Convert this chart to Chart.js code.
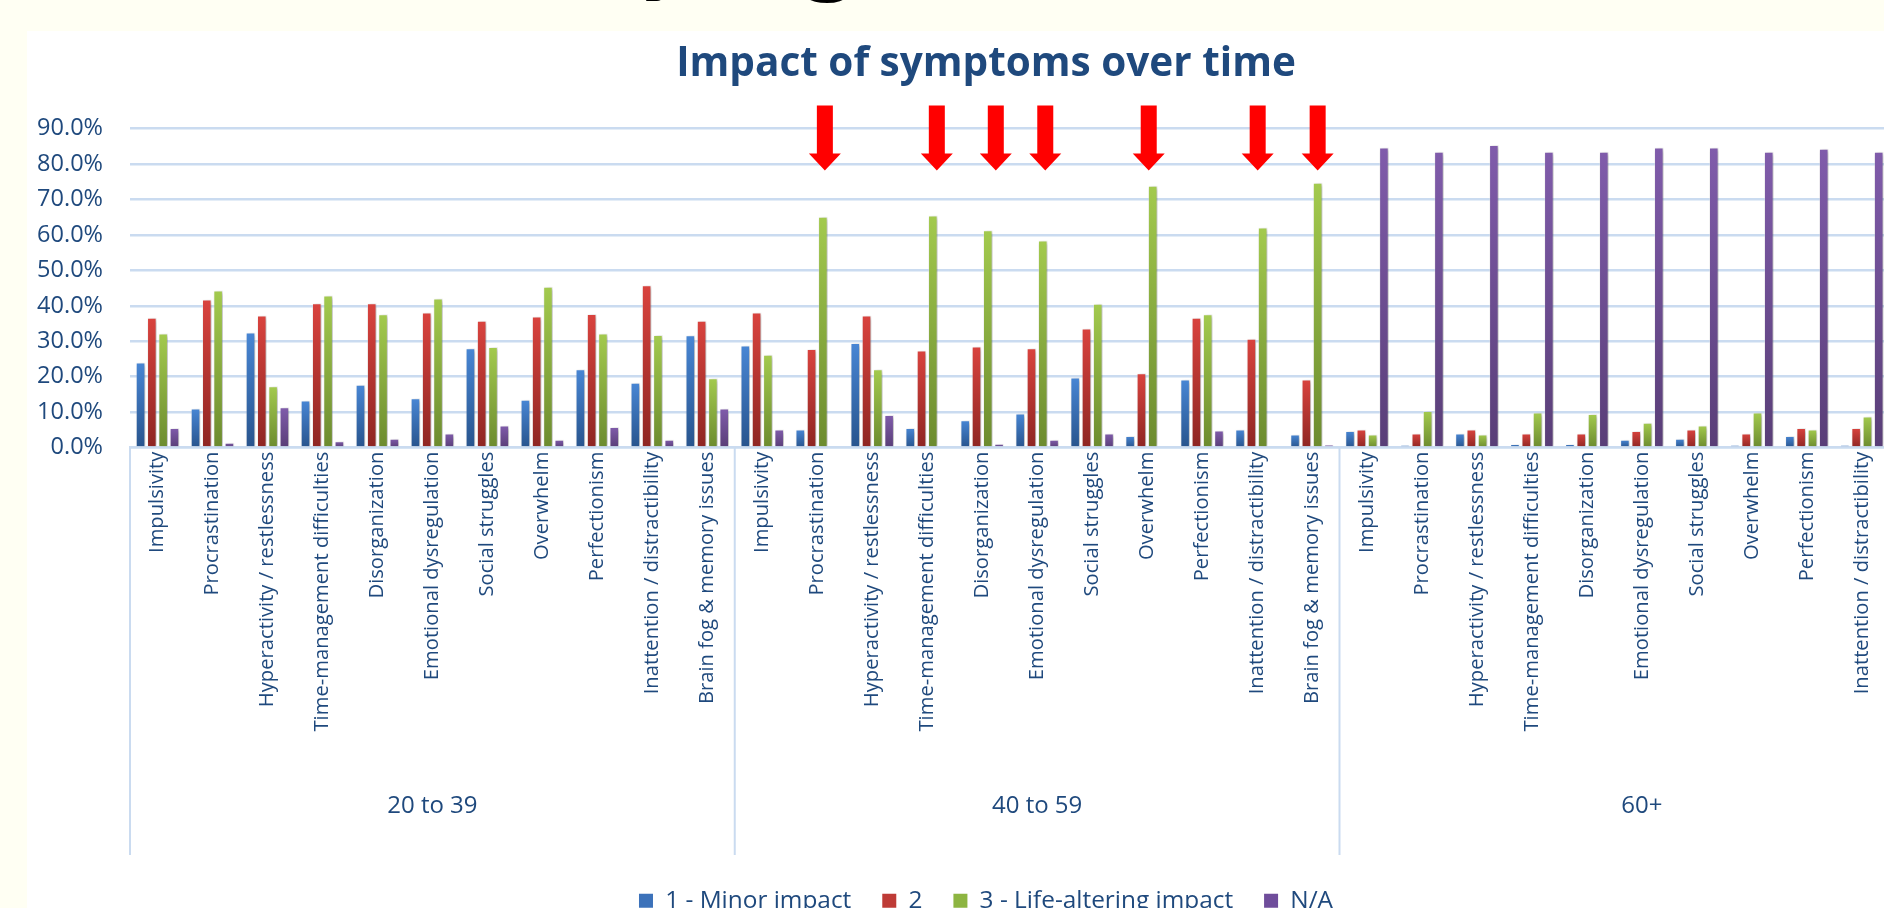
<!DOCTYPE html>
<html>
<head>
<meta charset="utf-8">
<title>Impact of symptoms over time</title>
<script src="https://cdn.jsdelivr.net/npm/chart.js@4.4.1/dist/chart.umd.min.js"></script>
<style>
  html, body { margin: 0; padding: 0; width: 1884px; height: 908px; overflow: hidden; background: #FFFFF3; }
  #heading { position: absolute; left: 566px; top: -125px; font: bold 120px Lato, sans-serif; line-height: 120px; word-spacing: 14px; color: #000; white-space: nowrap; }
  #panel { position: absolute; left: 27px; top: 31px; width: 1918px; height: 892px; background: #fff; }
  canvas { display: block; }
</style>
</head>
<body>
<div id="heading">by age</div>
<div id="panel"><canvas id="chart" width="1918" height="892"></canvas></div>
<script>
// Age bands and the symptoms asked about within each band
const ageGroups = ['20 to 39', '40 to 59', '60+'];
const symptoms = [
  'Impulsivity', 'Procrastination', 'Hyperactivity / restlessness',
  'Time-management difficulties', 'Disorganization', 'Emotional dysregulation',
  'Social struggles', 'Overwhelm', 'Perfectionism',
  'Inattention / distractibility', 'Brain fog & memory issues'
];
const seriesNames = ['1 - Minor impact', '2', '3 - Life-altering impact', 'N/A'];

// Share of respondents (%), one value per symptom, age bands in order
const minorImpact = [
  24.0, 11.0, 32.5, 13.3, 17.7, 13.9, 28.0, 13.5, 22.1, 18.3, 31.7,
  28.8,  5.1, 29.5,  5.5,  7.7,  9.6, 19.8,  3.3, 19.2,  5.1,  3.7,
   4.7,  0.7,  4.0,  1.0,  1.0,  2.2,  2.5,  0.7,  3.3,  0.7,  0.6
];
const impact2 = [
  36.6, 41.8, 37.3, 40.7, 40.7, 38.1, 35.8, 37.0, 37.7, 45.8, 35.8,
  38.1, 27.8, 37.3, 27.4, 28.5, 28.0, 33.6, 21.0, 36.6, 30.7, 19.2,
   5.1,  4.0,  5.1,  4.0,  4.0,  4.7,  5.1,  4.0,  5.5,  5.5,  3.3
];
const lifeAltering = [
  32.2, 44.3, 17.3, 42.9, 37.6, 42.1, 28.4, 45.4, 32.2, 31.8, 19.6,
  26.2, 65.1, 22.1, 65.5, 61.3, 58.4, 40.6, 73.9, 37.6, 62.1, 74.7,
   3.7, 10.3,  3.7,  9.9,  9.5,  7.0,  6.2,  9.9,  5.1,  8.8, null
];
const notApplicable = [
   5.5,  1.4, 11.4,  1.8,  2.5,  4.0,  6.2,  2.2,  5.8,  2.2, 11.0,
   5.1,  0.4,  9.2,  0.4,  1.1,  2.2,  4.0,  0.4,  4.8,  0.4,  0.8,
  84.7, 83.5, 85.4, 83.5, 83.5, 84.7, 84.7, 83.5, 84.3, 83.5, null
];

// Value axis ticks (%)
const yTickValues = [0, 10, 20, 30, 40, 50, 60, 70, 80, 90];

// Symptoms flagged with an arrow in the middle age band
const flaggedGroup = '40 to 59';
const flaggedSymptoms = [
  'Procrastination', 'Time-management difficulties', 'Disorganization',
  'Emotional dysregulation', 'Overwhelm', 'Inattention / distractibility',
  'Brain fog & memory issues'
];

const categoryLabels = ageGroups.flatMap(() => symptoms);

const TEXT = '#1F497D';
const GRID = '#CADBF0';
const FONT = "'Open Sans'";

// Vertical gradient from the top of each bar down to the baseline
function barFill(top, bottom) {
  return (c) => {
    const chart = c.chart;
    const y = chart.scales && chart.scales.y;
    if (!chart.chartArea || !y || c.raw == null) return bottom;
    const y0 = y.getPixelForValue(0);
    const y1 = y.getPixelForValue(c.raw);
    if (!isFinite(y1) || Math.abs(y0 - y1) < 1) return top;
    const g = chart.ctx.createLinearGradient(0, y1, 0, y0);
    g.addColorStop(0, top);
    g.addColorStop(1, bottom);
    return g;
  };
}

const legendColors = ['#3C72BA', '#BE3B36', '#8DB541', '#6F4D9B'];

// Soft drop shadow under the bars
const barShadow = {
  id: 'barShadow',
  beforeDatasetsDraw(chart) {
    const c = chart.ctx;
    c.save();
    c.shadowColor = 'rgba(0,0,0,0.3)';
    c.shadowBlur = 4;
    c.shadowOffsetX = 2;
    c.shadowOffsetY = 1;
  },
  afterDatasetsDraw(chart) { chart.ctx.restore(); }
};

// Second level of the category axis: age-band dividers and names
const groupAxis = {
  id: 'groupAxis',
  afterDraw(chart, args, o) {
    const { ctx, chartArea, scales: { x } } = chart;
    const n = symptoms.length;
    ctx.save();
    ctx.strokeStyle = o.lineColor;
    ctx.lineWidth = o.lineWidth;
    for (let g = 0; g <= ageGroups.length; g++) {
      const px = x.getPixelForValue(g * n - 0.5);
      ctx.beginPath();
      ctx.moveTo(px, chartArea.bottom);
      ctx.lineTo(px, chartArea.bottom + o.lineLength);
      ctx.stroke();
    }
    ctx.font = o.font;
    ctx.fillStyle = o.color;
    ctx.textAlign = 'center';
    ctx.textBaseline = 'middle';
    ageGroups.forEach((name, g) => {
      const a = x.getPixelForValue(g * n - 0.5);
      const b = x.getPixelForValue((g + 1) * n - 0.5);
      ctx.fillText(name, (a + b) / 2, chartArea.bottom + o.labelOffset);
    });
    ctx.restore();
  }
};

// Red call-out arrows above the flagged life-altering bars
const calloutArrows = {
  id: 'calloutArrows',
  afterDraw(chart, args, o) {
    const { ctx, chartArea } = chart;
    const meta = chart.getDatasetMeta(2);
    const base = ageGroups.indexOf(flaggedGroup) * symptoms.length;
    ctx.save();
    ctx.fillStyle = o.color;
    flaggedSymptoms.forEach((s, i) => {
      const bar = meta.data[base + symptoms.indexOf(s)];
      if (!bar) return;
      const cx = bar.x + (o.nudge[i] || 0);
      const top = chartArea.top - 23, neck = chartArea.top + 25, tip = chartArea.top + 42;
      ctx.beginPath();
      ctx.moveTo(cx - 8, top);
      ctx.lineTo(cx + 8, top);
      ctx.lineTo(cx + 8, neck);
      ctx.lineTo(cx + 16, neck);
      ctx.lineTo(cx, tip);
      ctx.lineTo(cx - 16, neck);
      ctx.lineTo(cx - 8, neck);
      ctx.closePath();
      ctx.fill();
    });
    ctx.restore();
  }
};

const edge = 'rgba(255,255,255,0.3)';

new Chart(document.getElementById('chart'), {
  type: 'bar',
  data: {
    labels: categoryLabels,
    datasets: [
      { label: seriesNames[0], data: minorImpact,   backgroundColor: barFill('#4886D4', '#28548D'), borderColor: edge, borderWidth: 1 },
      { label: seriesNames[1], data: impact2,       backgroundColor: barFill('#D9433E', '#8E2623'), borderColor: edge, borderWidth: 1 },
      { label: seriesNames[2], data: lifeAltering,  backgroundColor: barFill('#A3CA4E', '#6C8B2F'), borderColor: edge, borderWidth: 1 },
      { label: seriesNames[3], data: notApplicable, backgroundColor: barFill('#805CAB', '#593E77'), borderColor: edge, borderWidth: 1 }
    ]
  },
  options: {
    responsive: false,
    animation: false,
    devicePixelRatio: 1,
    categoryPercentage: 0.822,
    barPercentage: 0.85,
    layout: { padding: 0 },
    scales: {
      x: {
        grid: { display: false, drawTicks: false },
        border: { display: true, color: GRID, width: 2.5 },
        ticks: {
          autoSkip: false, minRotation: 90, maxRotation: 90, padding: 4,
          color: TEXT, font: { family: FONT, size: 20.2 }
        },
        afterFit: (s) => { s.height = 410; }
      },
      y: {
        min: 0, max: 90,
        grid: { color: GRID, lineWidth: 2.5, drawTicks: false },
        border: { display: false },
        ticks: {
          padding: 27, color: TEXT, font: { family: FONT, size: 23.5 },
          callback: (v) => Number(v).toFixed(1) + '%'
        },
        afterBuildTicks: (s) => { s.ticks = yTickValues.map((v) => ({ value: v })); },
        afterFit: (s) => { s.width = 103; }
      }
    },
    plugins: {
      title: {
        display: true,
        text: 'Impact of symptoms over time',
        color: TEXT,
        font: { family: FONT, weight: 'bold', size: 40.5, lineHeight: 1.2 },
        padding: { top: 9, bottom: 40 }
      },
      legend: {
        position: 'bottom',
        labels: {
          boxWidth: 14, boxHeight: 14, padding: 31,
          color: TEXT, font: { family: FONT, size: 24.4 },
          generateLabels: (chart) => chart.data.datasets.map((ds, i) => ({
            text: ds.label, fillStyle: legendColors[i], strokeStyle: legendColors[i],
            lineWidth: 0, hidden: false, datasetIndex: i, fontColor: TEXT
          }))
        }
      },
      tooltip: { enabled: false },
      groupAxis: { lineColor: GRID, lineWidth: 2, lineLength: 407.5, labelOffset: 358.5, color: TEXT, font: "24px 'Open Sans'" },
      calloutArrows: { color: '#FF0000', nudge: [2, 4, 8, 2.5, -4, -5, 0] }
    }
  },
  plugins: [barShadow, groupAxis, calloutArrows]
});
</script>
</body>
</html>
